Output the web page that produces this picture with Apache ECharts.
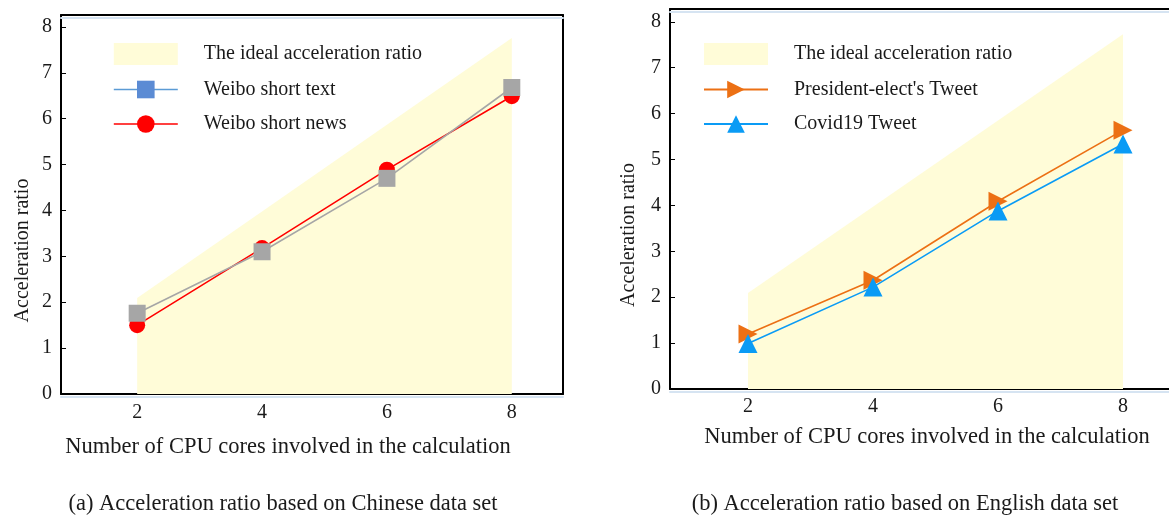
<!DOCTYPE html>
<html>
<head>
<meta charset="utf-8">
<script src="https://cdn.jsdelivr.net/npm/echarts@6/dist/echarts.min.js"></script>
<style>
  html, body { margin: 0; padding: 0; background: #fff; overflow: hidden; }
  #chart { width: 1169px; height: 516px; }
</style>
</head>
<body>
<div id="chart"></div>
<script>
// ---- data ----
const xCores = [2, 4, 6, 8];
const xTickMarks = [4, 6];
const yTicks = [0, 1, 2, 3, 4, 5, 6, 7, 8];
const idealRatioA = [2.09, 3.98, 5.87, 7.76];
const idealRatioB = [2.09, 3.97, 5.85, 7.73];
const weiboText = [1.76, 3.1, 4.7, 6.68];
const weiboNews = [1.5, 3.18, 4.89, 6.49];
const presidentTweet = [1.2, 2.37, 4.09, 5.64];
const covidTweet = [0.99, 2.22, 3.88, 5.34];
const idealName = 'The ideal acceleration ratio';
const xName = 'Number of CPU cores involved in the calculation';
const yName = 'Acceleration ratio';
const captionA = '(a) Acceleration ratio based on Chinese data set';
const captionB = '(b) Acceleration ratio based on English data set';

const pairs = arr => xCores.map((x, i) => [x, arr[i]]);
const FONT = '"Liberation Serif", "Times New Roman", serif';
const TXT = '#1a1a1a';
const IDEAL_COLOR = '#FFFCD8';
const LIGHT = '#D6E4F2';

function xAxisCfg(gi, min, max, namePad, nameGap, labelMargin) {
  return {
    type: 'value', gridIndex: gi, min: min, max: max,
    name: xName, nameLocation: 'middle', nameGap: nameGap,
    nameTextStyle: { fontFamily: FONT, fontSize: 22.5, color: TXT, padding: namePad },
    axisLine: { onZero: false, lineStyle: { color: '#000', width: 2, shadowColor: LIGHT, shadowOffsetY: 3, shadowBlur: 0 } },
    axisTick: { inside: true, length: 6, customValues: xTickMarks, lineStyle: { color: '#000', width: 1.5 } },
    axisLabel: { customValues: xCores, margin: labelMargin, fontFamily: FONT, fontSize: 20, color: TXT },
    splitLine: { show: false }
  };
}
function topAxisCfg(gi, min, max) {
  return {
    type: 'value', gridIndex: gi, min: min, max: max, position: 'top',
    axisLine: { onZero: false, lineStyle: { color: '#000', width: 2, shadowColor: LIGHT, shadowOffsetY: 3, shadowBlur: 0 } },
    axisTick: { show: false }, axisLabel: { show: false }, splitLine: { show: false }
  };
}
function yAxisCfg(gi, max, namePadRight, nameGap) {
  return {
    type: 'value', gridIndex: gi, min: 0, max: max, interval: 1,
    name: yName, nameLocation: 'middle', nameGap: nameGap,
    nameTextStyle: { fontFamily: FONT, fontSize: 20, color: TXT, padding: [0, namePadRight, 0, 0] },
    axisLine: { onZero: false, lineStyle: { color: '#000', width: 2 } },
    axisTick: { inside: true, length: 5, customValues: yTicks, lineStyle: { color: '#000', width: 1 } },
    axisLabel: { customValues: yTicks, margin: 9, fontFamily: FONT, fontSize: 20, color: TXT },
    splitLine: { show: false }
  };
}
function rightBorderAxis(gi, max) {
  return {
    type: 'value', gridIndex: gi, min: 0, max: max, position: 'right',
    axisLine: { show: true, onZero: false, lineStyle: { color: '#000', width: 2 } },
    axisTick: { show: false }, axisLabel: { show: false }, splitLine: { show: false }
  };
}
function idealSeries(ai, arr) {
  return {
    name: idealName, type: 'line', xAxisIndex: ai, yAxisIndex: ai,
    data: pairs(arr), showSymbol: false, symbol: 'none',
    lineStyle: { width: 0, opacity: 0 }, itemStyle: { color: IDEAL_COLOR },
    areaStyle: { color: IDEAL_COLOR, opacity: 1 }, z: 1, silent: true
  };
}
function lineSeries(ai, name, arr, color, symbol, size, rotate) {
  return {
    name: name, type: 'line', xAxisIndex: ai, yAxisIndex: ai, data: pairs(arr),
    symbol: symbol, symbolSize: size, symbolRotate: rotate || 0,
    lineStyle: { color: color, width: 1.6 }, itemStyle: { color: color, opacity: 1 },
    z: 3
  };
}
const legendText = { fontFamily: FONT, fontSize: 20, color: TXT, padding: [0, 0, 0, 21] };

const option = {
  animation: false,
  backgroundColor: '#fff',
  title: [
    { text: captionA, left: 278, top: 488, textAlign: 'center', textStyle: { fontFamily: FONT, fontSize: 22.5, fontWeight: 'normal', color: TXT } },
    { text: captionB, left: 900, top: 488, textAlign: 'center', textStyle: { fontFamily: FONT, fontSize: 22.5, fontWeight: 'normal', color: TXT } }
  ],
  grid: [
    { left: 61, width: 502, top: 15, height: 379, show: false },
    { left: 670, width: 499, top: 9, height: 380, show: false }
  ],
  xAxis: [
    xAxisCfg(0, 0.78, 8.82, [0, 48, 0, 0], 42, 9),
    xAxisCfg(1, 0.752, 8.736, [0, 0, 0, 15], 37, 8),
    topAxisCfg(0, 0.78, 8.82),
    topAxisCfg(1, 0.752, 8.736)
  ],
  yAxis: [
    yAxisCfg(0, 8.26, 92, 28),
    yAxisCfg(1, 8.28, 72, 31),
    rightBorderAxis(0, 8.26)
  ],
  legend: [
    {
      left: 108, top: 38, orient: 'vertical', itemWidth: 64, itemHeight: 22, itemGap: 14.5,
      textStyle: legendText,
      data: [
        { name: idealName, icon: 'rect', itemStyle: { color: IDEAL_COLOR } },
        { name: 'Weibo short text', itemStyle: { color: '#5B8BD4' }, lineStyle: { color: '#5B9BD5', width: 1.6 } },
        { name: 'Weibo short news', itemStyle: { color: '#FF0000' }, lineStyle: { color: '#FF0000', width: 1.6 } }
      ]
    },
    {
      left: 698, top: 38, orient: 'vertical', itemWidth: 64, itemHeight: 22, itemGap: 14.5,
      textStyle: legendText,
      data: [
        { name: idealName, icon: 'rect', itemStyle: { color: IDEAL_COLOR } },
        { name: "President-elect's Tweet" },
        { name: 'Covid19 Tweet' }
      ]
    }
  ],
  series: [
    idealSeries(0, idealRatioA),
    lineSeries(0, 'Weibo short news', weiboNews, '#FF0000', 'circle', 16),
    lineSeries(0, 'Weibo short text', weiboText, '#A6A6A6', 'rect', 17),
    idealSeries(1, idealRatioB),
    lineSeries(1, "President-elect's Tweet", presidentTweet, '#EC7014', 'triangle', 19, -90),
    lineSeries(1, 'Covid19 Tweet', covidTweet, '#0A9BF5', 'triangle', 19)
  ]
};
const chart = echarts.init(document.getElementById('chart'), null, { renderer: 'canvas' });
chart.setOption(option);
</script>
</body>
</html>
